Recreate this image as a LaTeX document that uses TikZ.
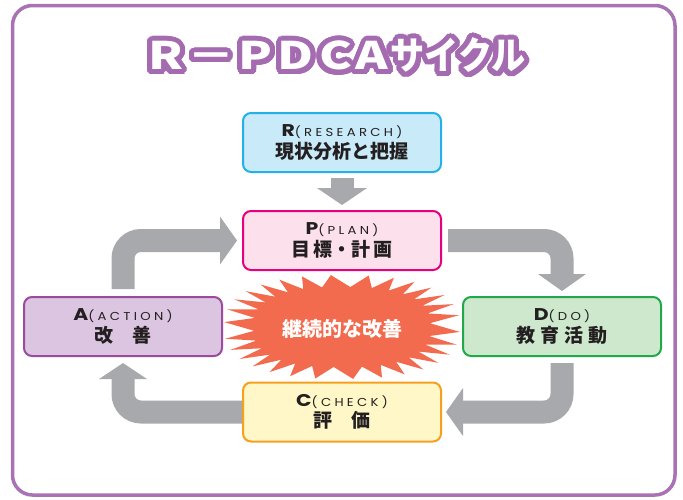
\documentclass[tikz,border=0pt]{standalone}
\usepackage{fontspec}
\usepackage{graphicx}
\usepackage[copies]{contour}
\setmainfont{Noto Sans CJK JP}
\newfontfamily\cjk{Noto Sans CJK JP}
\newfontfamily\lat{Poppins}
\newfontfamily\latsp{Poppins}[LetterSpace=25]
\definecolor{framecol}{HTML}{A872B4}
\definecolor{titlecol}{HTML}{A46BB0}
\definecolor{rfill}{HTML}{C9EAF8}\definecolor{rdraw}{HTML}{23B1E6}
\definecolor{pfill}{HTML}{FCE0EC}\definecolor{pdraw}{HTML}{E5007E}
\definecolor{afill}{HTML}{DCC5E1}\definecolor{adraw}{HTML}{9A4B9E}
\definecolor{dfill}{HTML}{CDE8CD}\definecolor{ddraw}{HTML}{21A84A}
\definecolor{cfill}{HTML}{FFF7C7}\definecolor{cdraw}{HTML}{F6A020}
\definecolor{burstcol}{HTML}{F26B4E}
\definecolor{arrgray}{HTML}{A7A9AC}
\definecolor{textdark}{HTML}{231F20}
\contourlength{5pt}\contournumber{40}
\newcommand\pdcalab[3]{\scalebox{1.2}[1]{\lat\bfseries\fontsize{17}{17}\selectfont #1}\scalebox{1.15}[1]{\latsp\fontsize{11.5}{11.5}\selectfont(#2)}\\[2pt]{\cjk\bfseries\fontsize{19}{19}\selectfont #3}}
\newcommand\titlestr{\scalebox{1.3}[1]{R}\hspace{4pt}\scalebox{1.25}[1]{－}\hspace{4pt}\scalebox{1.3}[1]{P\hspace{4pt}D\hspace{4pt}C\hspace{3pt}A}\hspace{2pt}\scalebox{0.9}[1]{サイクル}}
\tikzset{
  stagebox/.style={rounded corners=8pt, line width=2pt, minimum width=198pt, minimum height=59pt, align=center, text=textdark, inner sep=0pt},
  shaft/.style={draw=arrgray, line width=23pt, rounded corners=18pt},
  head/.style={fill=arrgray}
}
\begin{document}
\begin{tikzpicture}[x=1pt,y=-1pt]
\useasboundingbox (0,0) rectangle (683,499);
\draw[framecol, line width=3.5pt, rounded corners=20pt] (12.5,5.5) rectangle (675,495);
\node[font=\cjk\bfseries\fontsize{38}{38}\selectfont, text=white] (title) at (337,58)
  {\contour{titlecol}{\titlestr}};
% box positions
\coordinate (Rc) at (342,142.5);
\coordinate (Pc) at (342,240.5);
\coordinate (Ac) at (123,326.5);
\coordinate (Dc) at (562,326.5);
\coordinate (Cc) at (342,412);
% starburst
\fill[burstcol] plot[samples at={0,...,59}, variable=\k]
  ({342+(mod(\k,2)==0?118:88)*cos(\k*6+3)*pow(abs(cos(\k*6+3)),-0.2)},
   {327+(mod(\k,2)==0?52:40)*sin(\k*6+3)*pow(abs(sin(\k*6+3)),-0.2)}) -- cycle;
\node[text=white, font=\cjk\bfseries\fontsize{20}{20}\selectfont] (burst) at (342,329) {継続的な改善};
% boxes
\node[stagebox, fill=rfill, draw=rdraw] (R) at (Rc) {\pdcalab{R}{RESEARCH}{現状分析と把握}};
\node[stagebox, fill=pfill, draw=pdraw] (P) at (Pc) {\pdcalab{P}{PLAN}{目\hspace{3pt}標・計\hspace{3pt}画}};
\node[stagebox, fill=afill, draw=adraw] (A) at (Ac) {\pdcalab{A}{ACTION}{改　善}};
\node[stagebox, fill=dfill, draw=ddraw] (D) at (Dc) {\pdcalab{D}{DO}{教\hspace{5pt}育\hspace{5pt}活\hspace{5pt}動}};
% gray arrows (drawn before C so C covers the shaft end)
\draw[shaft] ([yshift=-5pt]R.south) -- ([yshift=-16pt]R.south);
\fill[head] ([yshift=5pt]P.north) -- ++(-25pt,17pt) -- ++(50pt,0) -- cycle;
\draw[shaft] ([yshift=7pt]A.north) |- ([xshift=-20pt]P.west);
\fill[head] ([xshift=-5pt]P.west) -- ++(-17pt,24pt) -- ++(0,-48pt) -- cycle;
\draw[shaft] ([xshift=6pt]P.east) -| ([yshift=21pt]D.north);
\fill[head] ([yshift=5pt]D.north) -- ++(-24pt,17pt) -- ++(48pt,0) -- cycle;
\draw[shaft] ([yshift=-6pt]D.south) |- (463,412);
\fill[head] (446,412) -- ++(17pt,24pt) -- ++(0,-48pt) -- cycle;
\draw[shaft] (245,412) -| ([yshift=-21pt]A.south);
\fill[head] ([yshift=-6pt]A.south) -- ++(-24pt,-16pt) -- ++(48pt,0) -- cycle;
\node[stagebox, fill=cfill, draw=cdraw] (C) at (Cc) {\pdcalab{C}{CHECK}{評　価}};
\end{tikzpicture}
\end{document}
